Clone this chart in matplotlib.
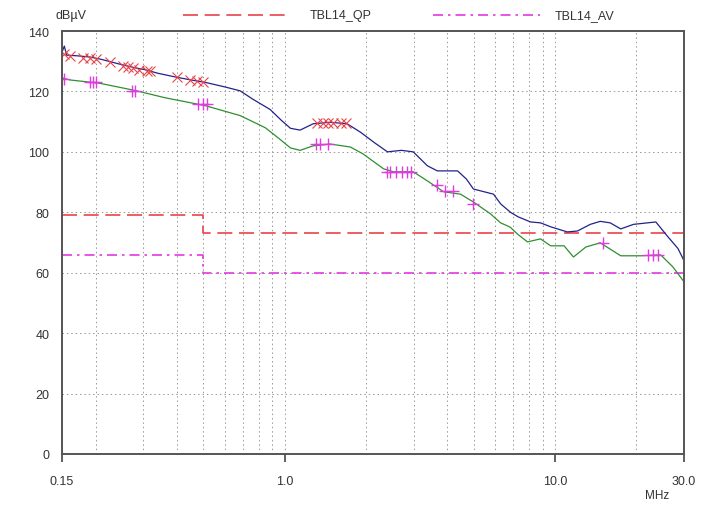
import numpy as np
import matplotlib
matplotlib.use("Agg")
import matplotlib.pyplot as plt
from matplotlib.ticker import FixedLocator, NullFormatter
from matplotlib.lines import Line2D

plt.rcParams['font.family'] = ['Liberation Sans', 'DejaVu Sans']

# peak scan, QP detector (blue)
qp_freq = [0.15, 0.153, 0.156, 0.17, 0.19, 0.21, 0.246, 0.28, 0.304, 0.34, 0.393, 0.45,
           0.508, 0.6, 0.684, 0.76, 0.884, 0.97, 1.05, 1.14, 1.275, 1.47, 1.70, 1.90,
           2.15, 2.40, 2.7, 2.99, 3.37, 3.67, 4.36, 4.7, 4.99, 5.92, 6.29, 6.84, 7.3,
           8.12, 8.84, 9.63, 11.1, 12.1, 13.5, 14.7, 16.0, 17.5, 19.5, 23.6, 26.1, 28.5, 30.0]
qp_level = [133, 135, 132, 131.8, 131.4, 130.6, 129, 127.8, 127.2, 126, 124.8, 123.8,
            123, 121.5, 120.2, 117.5, 114, 110.5, 107.8, 107.2, 109.3, 109.8, 109.3, 106.6,
            103, 100, 100.5, 100, 95.4, 93.7, 93.7, 91, 87.7, 86, 82.8, 80, 78.5,
            76.8, 76.5, 75.2, 73.5, 73.8, 76, 77, 76.5, 74.5, 76, 76.8, 72, 68, 64]

# peak scan, AV detector (green)
av_freq = [0.15, 0.1605, 0.207, 0.28, 0.361, 0.508, 0.684, 0.847, 0.95, 1.05, 1.14,
           1.275, 1.47, 1.75, 1.95, 2.32, 2.52, 2.99, 3.37, 3.87, 4.47, 4.99, 5.77,
           6.29, 6.67, 6.84, 7.26, 7.91, 8.84, 9.63, 10.8, 11.7, 13.0, 14.7, 17.5,
           20.7, 24.6, 27.3, 30.0]
av_level = [124.5, 123.8, 122.7, 120.3, 117.9, 115.3, 112, 108, 104.5, 101.3, 100.5,
            102, 102.6, 101.6, 99.3, 94.4, 93.4, 93.4, 90.4, 86.8, 86, 83.4, 79.5,
            76.5, 75.5, 75, 72.8, 70.2, 71.2, 68.9, 68.9, 65.2, 68.5, 69.9, 65.6,
            65.6, 65.9, 61.9, 57]

# final measurement points
qp_mark_freq = [0.152, 0.1605, 0.18, 0.19, 0.201, 0.2255, 0.252, 0.263, 0.274, 0.29,
                0.309, 0.317, 0.40, 0.447, 0.474, 0.499,
                1.32, 1.39, 1.44, 1.51, 1.61, 1.68]
qp_mark_level = [132.5, 131.8, 131, 131, 130.8, 129.8, 128.5, 128.2, 127.8, 127.2,
                 126.8, 126.7, 124.8, 123.8, 123.5, 123.2,
                 109.6, 109.6, 109.6, 109.6, 109.6, 109.6]
av_mark_freq = [0.152, 0.19, 0.195, 0.201, 0.272, 0.28, 0.478, 0.499, 0.516,
                1.30, 1.35, 1.44, 2.40, 2.46, 2.57, 2.72, 2.84, 2.92,
                3.67, 3.93, 4.21, 4.99, 15.0, 22.0, 23.0, 24.0]
av_mark_level = [124, 123.2, 123.2, 123.2, 120.2, 120.2, 115.9, 115.9, 115.9,
                 102.6, 102.6, 102.6, 93.4, 93.4, 93.4, 93.4, 93.4, 93.4,
                 89, 87, 87, 82.8, 70, 65.9, 65.9, 65.9]

# limit lines
lim_freq = [0.15, 0.5, 0.5, 30.0]
lim_qp = [79, 79, 73, 73]
lim_av = [66, 66, 60, 60]

x_ticks = [0.15, 1.0, 10.0, 30.0]
x_labels = ['0.15', '1.0', '10.0', '30.0']
grid_freq = [0.2, 0.3, 0.4, 0.5, 0.6, 0.7, 0.8, 0.9, 2, 3, 4, 5, 6, 7, 8, 9, 20]

blue = '#22228a'
green = '#2f8f2f'
red = '#e8444a'
magenta = '#e23ae2'

fig = plt.figure(figsize=(7.11, 5.06), dpi=100)
ax = fig.add_axes([62/711, 51/506, 622/711, 423/506])

ax.plot(lim_freq, lim_qp, color=red, lw=1.2, dashes=(9, 4))
ax.plot(lim_freq, lim_av, color=magenta, lw=1.2, dashes=(6, 3, 1.5, 3))
ax.plot(qp_freq, qp_level, color=blue, lw=0.9)
ax.plot(av_freq, av_level, color=green, lw=0.9)
ax.plot(qp_mark_freq, qp_mark_level, ls='none', marker='x', ms=7, mew=0.8, color=red)
ax.plot(av_mark_freq, av_mark_level, ls='none', marker='+', ms=9, mew=1.0, color=magenta)

ax.set_xscale('log')
ax.set_xlim(0.15, 30)
ax.set_ylim(0, 140)
ax.xaxis.set_major_locator(FixedLocator(x_ticks))
ax.set_xticklabels(x_labels)
ax.xaxis.set_minor_locator(FixedLocator(grid_freq))
ax.xaxis.set_minor_formatter(NullFormatter())
ax.set_yticks(range(0, 141, 20))

ax.grid(True, which='both', color='#999999', ls=(0, (1.5, 3)), lw=0.7)
ax.set_axisbelow(True)
ax.tick_params(which='minor', length=0)
ax.tick_params(axis='x', which='major', length=6, width=1.2, color='#444444',
               labelsize=9, labelcolor='#333333', pad=9)
ax.tick_params(axis='y', which='major', length=0, labelsize=9,
               labelcolor='#333333', pad=9)
for s in ax.spines.values():
    s.set_color('#555555')
    s.set_linewidth(1.4)

fig.text(55/711, 1 - 16/506, 'dBµV', fontsize=9, color='#333333', va='center')
fig.text(645/711, 1 - 496/506, 'MHz', fontsize=8.5, color='#333333', va='center')

# legend row on top
fig.add_artist(Line2D([183/711, 290/711], [1 - 16/506] * 2, color=red, lw=1.2, dashes=(9, 4)))
fig.text(310/711, 1 - 16/506, 'TBL14_QP', fontsize=9, color='#333333', va='center')
fig.add_artist(Line2D([433/711, 540/711], [1 - 16/506] * 2, color=magenta, lw=1.2,
                      dashes=(6, 3, 1.5, 3)))
fig.text(555/711, 1 - 16/506, 'TBL14_AV', fontsize=9, color='#333333', va='center')

fig.savefig('out.png', dpi=100)
